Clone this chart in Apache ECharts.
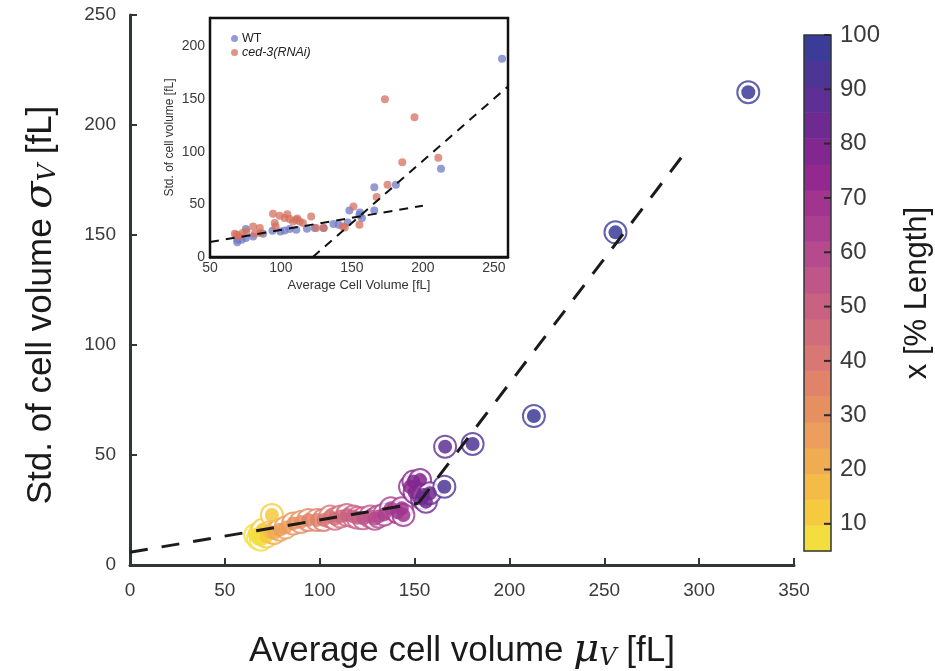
<!DOCTYPE html>
<html>
<head>
<meta charset="utf-8">
<script src="https://cdn.jsdelivr.net/npm/echarts@6/dist/echarts.min.js"></script>
<style>html,body{margin:0;padding:0;background:#fff}#c{width:935px;height:671px}</style>
</head>
<body>
<div id="c"></div>
<script>
// ---- main plot data: average cell volume, std of cell volume, x [% length]
const mainVolume = [66, 67.5, 68.5, 70, 69, 72, 74.8, 74, 76, 79, 82, 86, 90, 94, 98.5, 102, 105.5, 108, 111, 114.3, 117.8, 120, 123, 126.6, 129, 131, 134, 137.5, 141, 143.3, 144.1, 147.6, 149.4, 152.9, 150, 153.9, 154.6, 156, 158, 165.7, 166.1, 180.6, 212.9, 255.9, 325.9];
const mainStd    = [13.6, 12.0, 14.5, 16, 11.5, 13, 22.7, 15, 14.5, 16, 17, 18.9, 19.5, 20.5, 20.5, 20.5, 22, 21, 22, 22.7, 22, 21.5, 21.2, 22, 21, 22, 23, 25.8, 24, 25.8, 22.7, 35.6, 37.9, 38.6, 33, 30.3, 31.8, 28.8, 32.6, 35.6, 53.8, 55, 67.7, 151.2, 214.9];
const mainPos    = [6, 8, 7, 10, 9, 12, 14, 18, 22, 25, 28, 30, 32, 34, 37, 40, 42, 44, 46, 48, 50, 52, 54, 56, 58, 60, 62, 65, 67, 69, 70, 76, 78, 80, 77, 82, 81, 84, 83, 95, 87, 95, 99, 100, 100];
// piecewise linear fits (main)
const fitLow  = [[0, 5.8], [152, 28.1]];
const fitHigh = [[152, 28.1], [295, 190.2]];

// ---- inset data
const wtVolume = [255.8, 212.8, 181, 165.8, 165.8, 148.2, 155.7, 157.1, 147, 137, 140.7, 130, 123.7, 118.3, 110.8, 106.1, 102.6, 99.6, 94, 87.4, 80.4, 75.3, 75.3, 69.2, 69.2, 72.3, 155.3];
const wtStd    = [188.2, 83.8, 68.6, 66.3, 44.2, 44.2, 42.3, 37, 32.8, 31.3, 30.6, 27.5, 27.5, 26.9, 25.9, 26.6, 25.2, 24.3, 24.9, 22.1, 19.5, 18, 26.6, 16.4, 14, 16.4, 40];
const rnaiVolume = [173.3, 194.1, 210.9, 185.5, 175.1, 167.4, 151.1, 155.3, 143.5, 145, 130.2, 124.8, 121.3, 115.5, 113.2, 110.8, 108.5, 106.1, 102.6, 99.1, 94.4, 95.6, 96.2, 85.1, 85.6, 80.4, 81.6, 75.7, 72.9, 68.7, 70.6, 67.5, 104.5, 111.5];
const rnaiStd    = [149.9, 132.8, 94.2, 90, 68.6, 56.9, 48, 30.6, 29, 28, 27.5, 27.5, 38.5, 32.3, 33.8, 35.4, 33.8, 36, 37, 39.2, 41.1, 32.3, 29, 27.5, 22.8, 29, 22.1, 24.3, 22.8, 21.2, 19.6, 22, 40.5, 36.5];
const insetFitLow  = [[50, 14.2], [200, 48.7]];
const insetFitHigh = [[122.5, 0], [260, 162]];

// ---- colorbar
const cbMin = 5, cbMax = 100;
const cbColors = ['#f4dd3f', '#f5ca3e', '#f4bb47', '#f0ac52', '#ec9e5c', '#e7905f', '#e08369', '#d87773', '#d06c7b', '#c86182',
                  '#bf5687', '#b54a8c', '#ab3f8f', '#a0348f', '#93298e', '#82278f', '#6f2a92', '#5e2f95', '#4d3596', '#3b3b98'];
const cbTicks = [10, 20, 30, 40, 50, 60, 70, 80, 90, 100];

// ---- build
const mainData = mainVolume.map((v, i) => [v, mainStd[i], mainPos[i]]);
const wtData = wtVolume.map((v, i) => [v, wtStd[i]]);
const rnaiData = rnaiVolume.map((v, i) => [v, rnaiStd[i]]);
const step = (cbMax - cbMin) / cbColors.length;
const cbBands = cbColors.map((c, i) => [cbMin + i * step, cbMin + (i + 1) * step, i]);
const pieces = cbColors.map((c, i) => ({ gte: cbMin + i * step - (i === 0 ? 100 : 0), lt: cbMin + (i + 1) * step + (i === cbColors.length - 1 ? 100 : 0), color: c }));

const FONT = 'Liberation Sans';
const axisCol = '#2e3838';
const labCol = '#3a3a3a';
const titleCol = '#1a1a1a';

const chart = echarts.init(document.getElementById('c'), null, { renderer: 'canvas' });
chart.setOption({
  backgroundColor: '#fff',
  animation: false,
  textStyle: { fontFamily: FONT },
  grid: [
    { left: 130, top: 15, width: 664, height: 550, outerBoundsMode: 'none' },
    { left: 210, top: 18, width: 298, height: 239, show: true, backgroundColor: '#fff', borderColor: '#111', borderWidth: 2.5, z: 5, outerBoundsMode: 'none' },
    { left: 804, top: 35, width: 27, height: 516, show: true, borderColor: axisCol, borderWidth: 1.5, z: 12, outerBoundsMode: 'none' }
  ],
  visualMap: [{
    type: 'piecewise', show: false, dimension: 2, seriesIndex: [0, 1], pieces: pieces
  }],
  legend: {
    data: [{ name: 'WT' }, { name: 'ced-3(RNAi)', textStyle: { fontStyle: 'italic' } }],
    orient: 'vertical', left: 226, top: 27, itemWidth: 7, itemHeight: 7, itemGap: 1, icon: 'circle',
    textStyle: { fontSize: 12.5, color: '#222', fontFamily: FONT, padding: [0, 0, 0, -1] }, z: 10
  },
  xAxis: [
    { gridIndex: 0, type: 'value', min: 0, max: 350, interval: 50,
      axisLine: { onZero: false, lineStyle: { color: axisCol, width: 3 } },
      axisTick: { inside: true, length: 7, lineStyle: { color: axisCol, width: 2 } },
      axisLabel: { fontSize: 19, color: labCol, margin: 16 }, splitLine: { show: false },
      name: '{a|Average cell volume }{m|μ}{v|V}{a| [fL]}', nameLocation: 'middle', nameGap: 66,
      nameTextStyle: { rich: {
        a: { fontSize: 35, color: titleCol, fontFamily: FONT },
        m: { fontSize: 40, color: titleCol, fontFamily: 'DejaVu Serif', fontStyle: 'italic' },
        v: { fontSize: 24, color: titleCol, fontFamily: 'DejaVu Serif', fontStyle: 'italic', padding: [15, 0, 0, 0] } } } },
    { gridIndex: 1, type: 'value', min: 50, max: 260, interval: 50,
      axisLine: { onZero: false, lineStyle: { color: '#111', width: 2.5 } },
      axisTick: { inside: true, length: 4, lineStyle: { color: '#111', width: 2 } },
      axisLabel: { fontSize: 14, color: labCol, margin: 4, showMaxLabel: false }, splitLine: { show: false },
      name: 'Average Cell Volume [fL]', nameLocation: 'middle', nameGap: 22,
      nameTextStyle: { fontSize: 13, color: '#333' } },
    { gridIndex: 1, type: 'value', position: 'top', min: 50, max: 260, interval: 50,
      axisLine: { show: false, onZero: false }, axisTick: { inside: true, length: 4, lineStyle: { color: '#111', width: 2 } },
      axisLabel: { show: false }, splitLine: { show: false } },
    { gridIndex: 2, type: 'value', min: 0, max: 1, show: false }
  ],
  yAxis: [
    { gridIndex: 0, type: 'value', min: 0, max: 250, interval: 50,
      axisLine: { show: true, onZero: false, lineStyle: { color: axisCol, width: 3 } },
      axisTick: { show: true, inside: true, length: 7, lineStyle: { color: axisCol, width: 2 } },
      axisLabel: { fontSize: 19, color: labCol, margin: 14 }, splitLine: { show: false },
      name: '{a|Std. of cell volume }{s|σ}{v|V}{a| [fL]}', nameLocation: 'middle', nameGap: 69, nameRotate: 90,
      nameTextStyle: { padding: [0, 30, 0, 0], rich: {
        a: { fontSize: 35, color: titleCol, fontFamily: FONT },
        s: { fontSize: 40, color: titleCol, fontFamily: 'DejaVu Serif', fontStyle: 'italic' },
        v: { fontSize: 24, color: titleCol, fontFamily: 'DejaVu Serif', fontStyle: 'italic', padding: [15, 0, 0, 0] } } } },
    { gridIndex: 1, type: 'value', min: 0, max: 227, interval: 50,
      axisLine: { show: true, onZero: false, lineStyle: { color: '#111', width: 2.5 } },
      axisTick: { show: true, inside: true, length: 4, lineStyle: { color: '#111', width: 2 } },
      axisLabel: { fontSize: 14, color: labCol, margin: 5, showMaxLabel: false }, splitLine: { show: false },
      name: 'Std. of cell volume [fL]', nameLocation: 'middle', nameGap: 34, nameRotate: 90,
      nameTextStyle: { fontSize: 12, color: '#333' } },
    { gridIndex: 1, type: 'value', position: 'right', min: 0, max: 227, interval: 50,
      axisLine: { show: false, onZero: false }, axisTick: { show: true, inside: true, length: 4, lineStyle: { color: '#111', width: 2 } },
      axisLabel: { show: false }, splitLine: { show: false } },
    { gridIndex: 2, type: 'value', position: 'right', min: cbMin, max: cbMax, z: 12,
      axisLine: { show: false, onZero: false },
      axisTick: { show: false },
      axisLabel: { fontSize: 24, color: labCol, margin: 9, customValues: cbTicks }, splitLine: { show: false },
      name: 'x [% Length]', nameLocation: 'middle', nameGap: 71, nameRotate: 90,
      nameTextStyle: { fontSize: 31, color: titleCol } }
  ],
  series: [
    { type: 'scatter', xAxisIndex: 0, yAxisIndex: 0, data: mainData, symbol: 'emptyCircle', symbolSize: 22,
      itemStyle: { borderWidth: 1.6, opacity: 0.8 }, z: 2 },
    { type: 'scatter', xAxisIndex: 0, yAxisIndex: 0, data: mainData, symbol: 'circle', symbolSize: 14,
      itemStyle: { opacity: 0.85 }, z: 3 },
    { type: 'line', xAxisIndex: 0, yAxisIndex: 0, data: fitLow, symbol: 'none', z: 4,
      lineStyle: { color: '#1b1b1b', width: 3, type: [18, 14] } },
    { type: 'line', xAxisIndex: 0, yAxisIndex: 0, data: fitHigh, symbol: 'none', z: 4,
      lineStyle: { color: '#1b1b1b', width: 3, type: [18, 14] } },
    { name: 'WT', type: 'scatter', xAxisIndex: 1, yAxisIndex: 1, data: wtData, symbolSize: 8, z: 6,
      itemStyle: { color: '#6f79c6', opacity: 0.75 } },
    { name: 'ced-3(RNAi)', type: 'scatter', xAxisIndex: 1, yAxisIndex: 1, data: rnaiData, symbolSize: 8, z: 6,
      itemStyle: { color: '#d4705f', opacity: 0.75 } },
    { type: 'line', xAxisIndex: 1, yAxisIndex: 1, data: insetFitLow, symbol: 'none', z: 7, clip: true,
      lineStyle: { color: '#111', width: 2, type: [9, 7] } },
    { type: 'line', xAxisIndex: 1, yAxisIndex: 1, data: insetFitHigh, symbol: 'none', z: 7, clip: true,
      lineStyle: { color: '#111', width: 2, type: [9, 7] } },
    { type: 'custom', xAxisIndex: 3, yAxisIndex: 3, data: cbBands, z: 1, clip: false,
      renderItem: function (params, api) {
        const p0 = api.coord([0, api.value(0)]);
        const p1 = api.coord([1, api.value(1)]);
        return { type: 'rect', shape: { x: p0[0], y: p1[1], width: p1[0] - p0[0], height: p0[1] - p1[1] + 0.5 },
                 style: { fill: cbColors[api.value(2)] } };
      } },
    { type: 'custom', xAxisIndex: 3, yAxisIndex: 3, data: cbTicks.map(t => [0.5, t]), z: 20, clip: false,
      renderItem: function (params, api) {
        const p = api.coord([1, api.value(1)]);
        return { type: 'rect', shape: { x: p[0] - 7, y: p[1] - 1, width: 7, height: 2 },
                 style: { fill: '#2a2a2a' } };
      } }
  ]
});
</script>
</body>
</html>
